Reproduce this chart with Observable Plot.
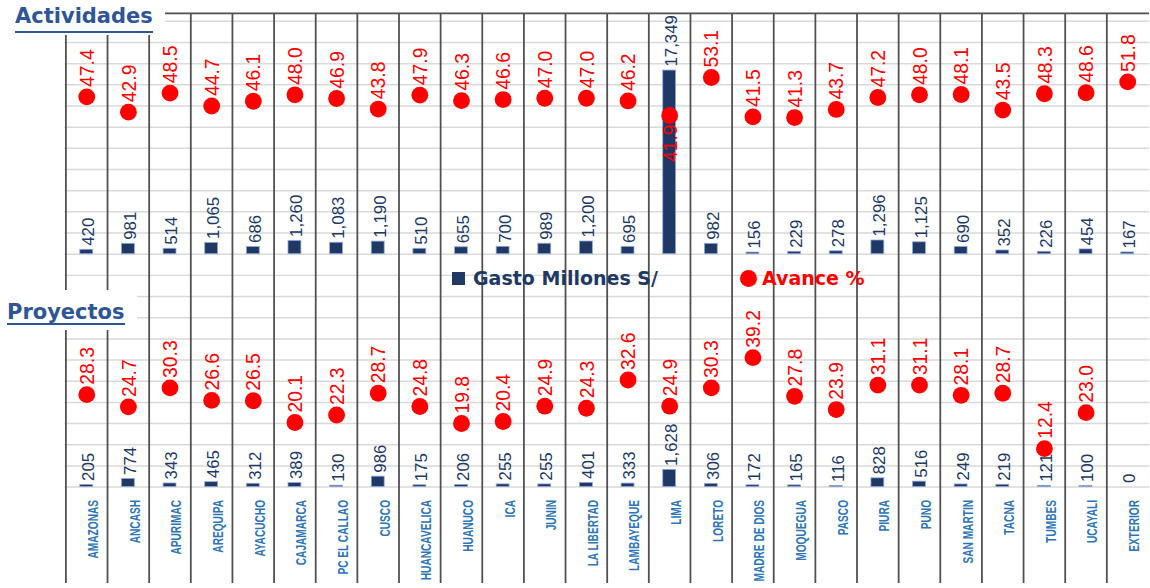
<!DOCTYPE html>
<html><head><meta charset="utf-8">
<script src="https://cdn.jsdelivr.net/npm/d3@7"></script>
<script src="https://cdn.jsdelivr.net/npm/@observablehq/plot@0.6"></script>
<style>
html,body{margin:0;padding:0;background:#fff;overflow:hidden;}
#wrap{position:relative;width:1150px;height:588px;overflow:hidden;background:#fff;}
#wrap svg{position:absolute;left:0;top:0;}
.box{position:absolute;background:#fff;}
.ttl{position:absolute;display:inline-block;font-family:"DejaVu Sans",Verdana,sans-serif;font-weight:bold;font-size:21px;line-height:21px;color:#2F5597;border-bottom:2px solid #2F5597;white-space:nowrap;}
.leg{position:absolute;font-family:"DejaVu Sans",Verdana,sans-serif;font-weight:bold;font-size:19px;line-height:19px;white-space:nowrap;}
.sq{position:absolute;width:13px;height:13px;background:#203864;}
.ci{position:absolute;width:17px;height:17px;border-radius:50%;background:#ff0000;}
</style></head><body>
<div id="wrap"></div>
<script>
// ---- data ----
const categories = ["AMAZONAS","ANCASH","APURIMAC","AREQUIPA","AYACUCHO","CAJAMARCA","PC EL CALLAO","CUSCO","HUANCAVELICA","HUANUCO","ICA","JUNIN","LA LIBERTAD","LAMBAYEQUE","LIMA","LORETO","MADRE DE DIOS","MOQUEGUA","PASCO","PIURA","PUNO","SAN MARTIN","TACNA","TUMBES","UCAYALI","EXTERIOR"];
const gastoActividades = [420,981,514,1065,686,1260,1083,1190,510,655,700,989,1200,695,17349,982,156,229,278,1296,1125,690,352,226,454,167];
const avanceActividades = [47.4,42.9,48.5,44.7,46.1,48.0,46.9,43.8,47.9,46.3,46.6,47.0,47.0,46.2,41.9,53.1,41.5,41.3,43.7,47.2,48.0,48.1,43.5,48.3,48.6,51.8];
const gastoProyectos = [205,774,343,465,312,389,130,986,175,206,255,255,401,333,1628,306,172,165,116,828,516,249,219,121,100,0];
const avanceProyectos = [28.3,24.7,30.3,26.6,26.5,20.1,22.3,28.7,24.8,19.8,20.4,24.9,24.3,32.6,24.9,30.3,39.2,27.8,23.9,31.1,31.1,28.1,28.7,12.4,23.0,null];
const panels = ["Actividades","Proyectos"];
const legendLabels = ["Gasto Millones S/","Avance %"];

// ---- layout constants ----
const W = 1160, H = 588;
const colW = 42.08;
const yTop = 22750, yBottom = -31100;   // y scale domain (gasto units)
const panelOffset = 22000;              // bottom panel baseline shift
const avK = 321, avZ = -350;            // avance% -> gasto units (secondary axis)
const navy = "#203864", red = "#ff0000", catBlue = "#2E75B6";

const rows = categories.flatMap((c, i) => [
  {cat: c, panel: panels[0], base: 0, gasto: gastoActividades[i], avance: avanceActividades[i]},
  {cat: c, panel: panels[1], base: -panelOffset, gasto: gastoProyectos[i], avance: avanceProyectos[i]}
]);
const avY = d => d.base + avZ + d.avance * avK;
const topY = d => d.base + d.gasto;
const withAv = rows.filter(d => d.avance != null);
const labAbove = withAv.filter(d => topY(d) <= avY(d));
const labBelow = withAv.filter(d => topY(d) > avY(d));
const fmtG = d3.format(",");
const fmtA = d3.format(".1f");
const gridVals = d3.range(-panelOffset, yTop, 2000);

const chart = Plot.plot({
  width: W, height: H,
  marginLeft: 65, marginRight: W - 65 - categories.length * colW, marginTop: 13, marginBottom: 0,
  x: {type: "band", domain: categories, padding: 0, axis: null},
  y: {domain: [yBottom, yTop], axis: null},
  style: {background: "white", fontFamily: "'Liberation Sans', Arial, sans-serif"},
  marks: [
    Plot.ruleY(gridVals, {stroke: "#d9d9d9", strokeWidth: 1.5}),
    Plot.ruleX(categories, {x: d => d, dx: -colW / 2, stroke: "#505050", strokeWidth: 1.8}),
    Plot.ruleY([yTop], {stroke: "#505050", strokeWidth: 1.8}),
    Plot.barY(rows, {x: "cat", y1: "base", y2: topY, fill: navy, stroke: "#8FAADC", strokeWidth: 0.8, insetLeft: 14.5, insetRight: 14.5}),
    Plot.text(rows, {x: "cat", y: topY, text: d => fmtG(d.gasto), rotate: -90, textAnchor: "start", lineAnchor: "middle", dx: 2, dy: -4, fill: navy, fontSize: 17}),
    Plot.dot(withAv, {x: "cat", y: avY, r: 8.5, fill: red}),
    Plot.text(labAbove, {x: "cat", y: avY, text: d => fmtA(d.avance), rotate: -90, textAnchor: "start", lineAnchor: "middle", dx: 1, dy: -10, fill: red, fontSize: 19.5}),
    Plot.text(labBelow, {x: "cat", y: avY, text: d => fmtA(d.avance), rotate: -90, textAnchor: "end", lineAnchor: "middle", dx: 1, dy: 9, fill: red, fontSize: 19.5}),
    Plot.text(categories, {x: d => d, y: () => -panelOffset, text: d => d, rotate: -90, textAnchor: "end", lineAnchor: "middle", dx: 7, dy: 13, fill: catBlue, fontWeight: "bold", fontSize: 14})
  ]
});
const wrap = document.getElementById("wrap");
wrap.appendChild(chart);
// condense category labels along their reading direction
d3.select(chart).selectAll("text").filter(function() {
  const g = this.closest("g");
  return g && (g.getAttribute("fill") || "").toLowerCase() === catBlue.toLowerCase();
}).attr("transform", function() {
  return (this.getAttribute("transform") || "") + " scale(0.73,1)";
});

// ---- overlays: titles and legend ----
function el(cls, css, text) {
  const e = document.createElement("div");
  e.className = cls; Object.assign(e.style, css);
  if (text) e.textContent = text;
  wrap.appendChild(e); return e;
}
el("box", {left: "0px", top: "0px", width: "165px", height: "35px"});
el("ttl", {left: "15px", top: "6px", paddingBottom: "4px"}, panels[0]);
el("box", {left: "0px", top: "290px", width: "137px", height: "40px"});
el("ttl", {left: "7px", top: "302px", paddingBottom: "0px"}, panels[1]);
el("sq", {left: "452px", top: "272px"});
el("leg", {left: "473px", top: "269px", color: navy}, legendLabels[0]);
el("ci", {left: "740px", top: "270px"});
el("leg", {left: "762px", top: "269px", color: red}, legendLabels[1]);
</script>
</body></html>
